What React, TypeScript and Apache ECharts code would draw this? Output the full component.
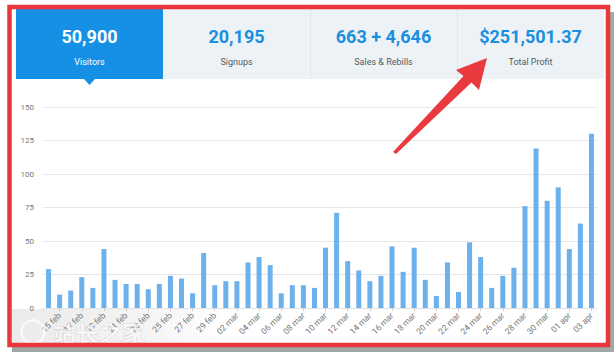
import React, { useEffect, useRef } from "react";
import * as echarts from "echarts";

const categories = [
  "14 feb", "15 feb", "16 feb", "17 feb", "18 feb", "19 feb", "20 feb", "21 feb", "22 feb", "23 feb",
  "24 feb", "25 feb", "26 feb", "27 feb", "28 feb", "29 feb", "01 mar", "02 mar", "03 mar", "04 mar",
  "05 mar", "06 mar", "07 mar", "08 mar", "09 mar", "10 mar", "11 mar", "12 mar", "13 mar", "14 mar",
  "15 mar", "16 mar", "17 mar", "18 mar", "19 mar", "20 mar", "21 mar", "22 mar", "23 mar", "24 mar",
  "25 mar", "26 mar", "27 mar", "28 mar", "29 mar", "30 mar", "31 mar", "01 apr", "02 apr", "03 apr",
];

const visitors = [
  29, 10, 13, 23, 15, 44, 21, 18, 18, 14,
  18, 24, 22, 11, 41, 17, 20, 20, 34, 38,
  32, 11, 17, 17, 15, 45, 71, 35, 28, 20,
  24, 46, 27, 45, 21, 9, 34, 12, 49, 38,
  15, 24, 30, 76, 119, 80, 90, 44, 63, 130,
];

const tabValues = ["50,900", "20,195", "663 + 4,646", "$251,501.37"];
const tabLabels = ["Visitors", "Signups", "Sales & Rebills", "Total Profit"];

const FONT = "Roboto, 'Noto Sans', sans-serif";

export default function App() {
  const ref = useRef<HTMLDivElement>(null);

  useEffect(() => {
    if (!ref.current) return;
    const chart = echarts.init(ref.current, undefined, { renderer: "svg" });

    const tabX0 = 16;
    const tabW = 147;
    const tabTop = 9;
    const tabH = 70;

    const tabGraphics: any[] = [];
    tabValues.forEach((v, i) => {
      const x = tabX0 + i * tabW;
      const active = i === 0;
      tabGraphics.push({
        type: "rect",
        shape: { x, y: tabTop, width: tabW, height: tabH },
        style: { fill: active ? "#1590e4" : "#edf2f6" },
        z: 1,
      });
      if (i > 1) {
        tabGraphics.push({
          type: "line",
          shape: { x1: x + 0.5, y1: tabTop, x2: x + 0.5, y2: tabTop + tabH },
          style: { stroke: "#dfe6eb", lineWidth: 1 },
          z: 2,
        });
      }
      tabGraphics.push({
        type: "text",
        x: x + tabW / 2,
        y: 36,
        style: {
          text: v,
          fill: active ? "#ffffff" : "#1b8fdf",
          font: `bold 18px ${FONT}`,
          textAlign: "center",
          textVerticalAlign: "middle",
        },
        z: 3,
      });
      tabGraphics.push({
        type: "text",
        x: x + tabW / 2,
        y: 62,
        style: {
          text: tabLabels[i],
          fill: active ? "#ffffff" : "#555a5e",
          font: `9px ${FONT}`,
          textAlign: "center",
          textVerticalAlign: "middle",
        },
        z: 3,
      });
    });

    const option: any = {
      animation: false,
      backgroundColor: "#ffffff",
      grid: { left: 43, right: 17, top: 107, bottom: 44, containLabel: false },
      xAxis: {
        type: "category",
        data: categories,
        boundaryGap: true,
        axisLine: { show: true, lineStyle: { color: "#e3e3e3" } },
        axisTick: {
          show: true,
          alignWithLabel: true,
          length: 3,
          interval: (idx: number) => idx % 2 === 1,
          lineStyle: { color: "#cfcfcf" },
        },
        axisLabel: {
          interval: (idx: number) => idx % 2 === 1,
          rotate: 45,
          fontSize: 8.5,
          color: "#777",
          fontFamily: FONT,
          margin: 6,
        },
        splitLine: { show: false },
      },
      yAxis: {
        type: "value",
        min: 0,
        max: 150,
        interval: 25,
        axisLine: { show: false },
        axisTick: { show: false },
        axisLabel: { fontSize: 8, color: "#777", fontFamily: FONT, margin: 9 },
        splitLine: { lineStyle: { color: "#e6e6e6", width: 1 } },
      },
      series: [
        {
          type: "bar",
          data: visitors,
          barWidth: 5,
          itemStyle: { color: "#6cb0ec" },
          z: 2,
        },
      ],
      graphic: [
        // page shadow
        { type: "rect", shape: { x: 12, y: 346, width: 602, height: 6 }, style: { fill: "#9ea7a1" }, z: -10 },
        { type: "rect", shape: { x: 608, y: 12, width: 6, height: 340 }, style: { fill: "#a4a8a6" }, z: -10 },
        // red frame
        {
          type: "rect",
          shape: { x: 9.5, y: 7, width: 598.5, height: 338 },
          style: { fill: "none", stroke: "#e8363c", lineWidth: 4.5 },
          z: 20,
        },
        ...tabGraphics,
        // active tab pointer
        {
          type: "polygon",
          shape: { points: [[84, 79], [95, 79], [89.5, 85]] },
          style: { fill: "#1590e4" },
          z: 3,
        },
        // red arrow
        {
          type: "polygon",
          shape: {
            points: [
              [393, 152],
              [463.5, 76],
              [456, 70],
              [487, 58],
              [479, 90],
              [471.5, 82.5],
              [396, 154],
            ],
          },
          style: { fill: "#ea3a3f" },
          z: 15,
        },
        // watermark band
        {
          type: "rect",
          shape: { x: 12, y: 309, width: 210, height: 34 },
          style: {
            fill: new echarts.graphic.LinearGradient(0, 0, 1, 0, [
              { offset: 0, color: "rgba(120,120,120,0.15)" },
              { offset: 0.7, color: "rgba(120,120,120,0.07)" },
              { offset: 1, color: "rgba(120,120,120,0)" },
            ]),
          },
          z: 10,
        },
        {
          type: "circle",
          shape: { cx: 33, cy: 332, r: 11.5 },
          style: { fill: "none", stroke: "rgba(255,255,255,0.7)", lineWidth: 2.5 },
          z: 11,
        },
        {
          type: "text",
          x: 99,
          y: 332,
          style: {
            text: "站长之家",
            fill: "rgba(255,255,255,0.65)",
            stroke: "rgba(150,150,150,0.3)",
            lineWidth: 1,
            font: "bold 23px 'Noto Sans CJK SC', sans-serif",
            textAlign: "center",
            textVerticalAlign: "middle",
          },
          z: 11,
        },
      ],
    };

    chart.setOption(option);
    return () => chart.dispose();
  }, []);

  return (
    <div
      ref={ref}
      style={{ position: "fixed", left: 0, top: 0, width: 614, height: 352, background: "#fff" }}
    />
  );
}
